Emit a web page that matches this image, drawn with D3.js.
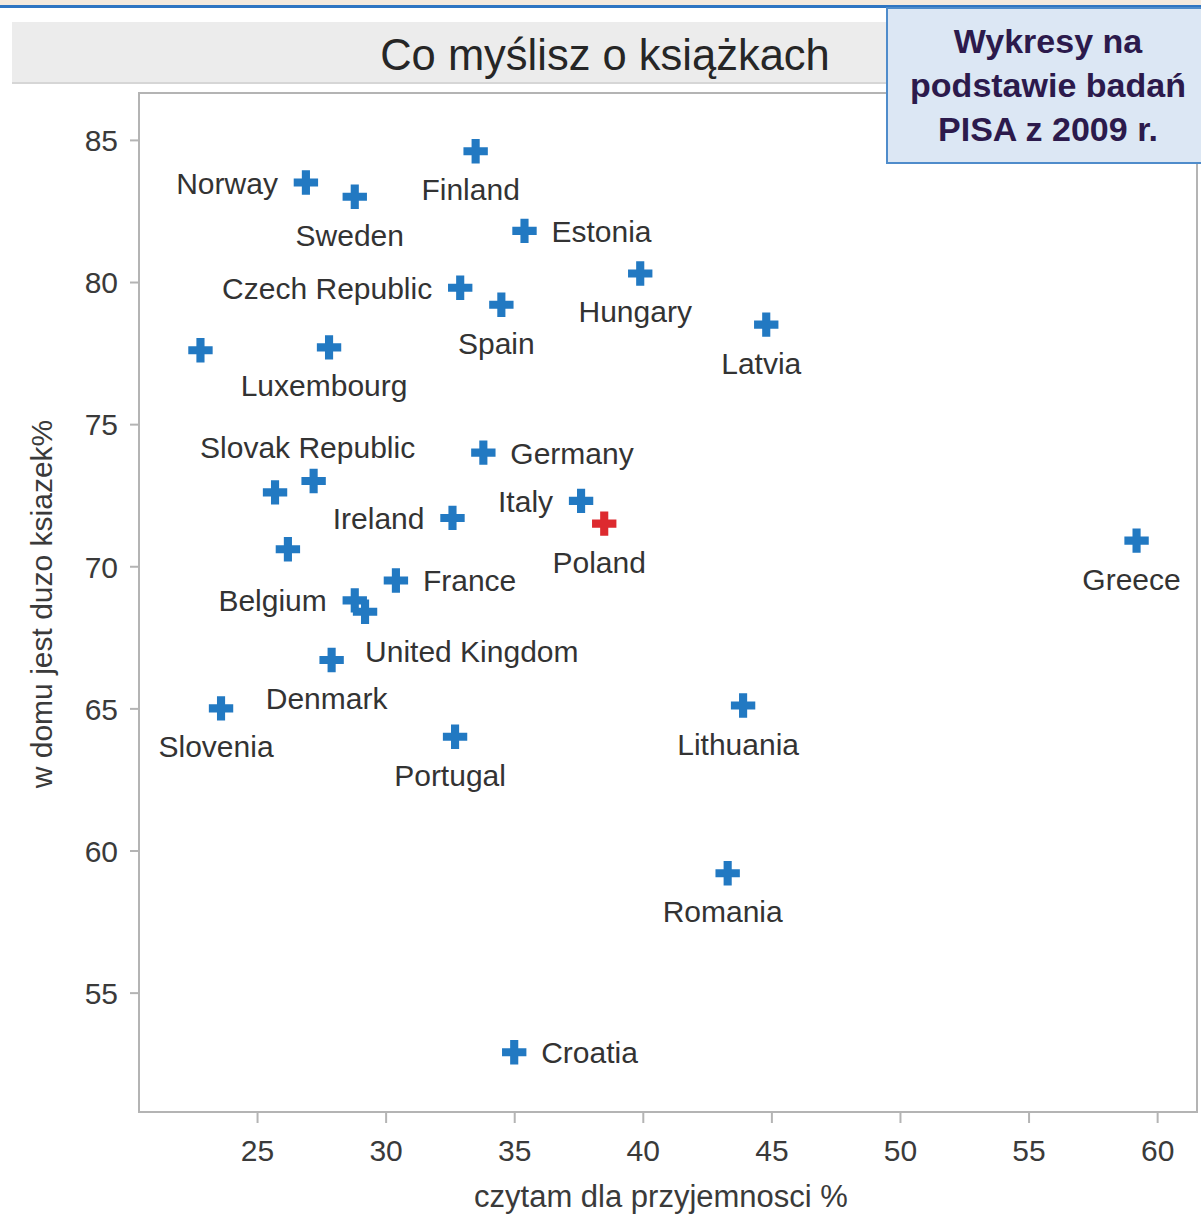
<!DOCTYPE html>
<html>
<head>
<meta charset="utf-8">
<script src="https://cdn.jsdelivr.net/npm/d3@7"></script>
<style>
  body { margin: 0; background: #fff; }
  text { font-family: "Liberation Sans", Arial, sans-serif; }
</style>
</head>
<body>
<div class="canvas"></div>
<script>
// ---- data ----
const countries = ['Norway', 'Sweden', 'Finland', 'Estonia', 'Czech Republic', 'Spain', 'Hungary', 'Latvia',
    '', 'Luxembourg', 'Germany', 'Slovak Republic', '', 'Ireland', 'Italy', 'Poland', '', 'France',
    'Belgium', 'United Kingdom', 'Denmark', 'Slovenia', 'Portugal', 'Lithuania', 'Romania', 'Croatia', 'Greece'];
const readForPleasure = [26.9, 28.8, 33.5, 35.4, 32.9, 34.5, 39.9, 44.8,
    22.8, 27.8, 33.8, 27.2, 25.7, 32.6, 37.6, 38.5, 26.2, 30.4,
    28.8, 29.2, 27.9, 23.6, 32.7, 43.9, 43.3, 35.0, 59.2];
const manyBooks = [83.5, 83.0, 84.6, 81.8, 79.8, 79.2, 80.3, 78.5,
    77.6, 77.7, 74.0, 73.0, 72.6, 71.7, 72.3, 71.5, 70.6, 69.5,
    68.8, 68.4, 66.7, 65.0, 64.0, 65.1, 59.2, 52.9, 70.9];
// where each name sits next to its marker
const labelSide = ['left', 'below', 'below', 'right', 'left', 'below', 'below', 'below',
    'none', 'below', 'right', 'above', 'none', 'left', 'left', 'below', 'none', 'right',
    'left', 'belowright', 'below', 'below', 'below', 'below', 'below', 'right', 'below'];
const highlight = 'Poland';

const xTicks = [25, 30, 35, 40, 45, 50, 55, 60];
const yTicks = [55, 60, 65, 70, 75, 80, 85];

const title = 'Co myślisz o książkach';
const xTitle = 'czytam dla przyjemnosci %';
const yTitle = 'w domu jest duzo ksiazek%';
const boxLines = ['Wykresy na', 'podstawie badań', 'PISA z 2009 r.'];

// ---- canvas ----
const W = 1201, H = 1224;
const plot = { left: 139, top: 93, right: 1197, bottom: 1112 };

const svg = d3.select('.canvas')
    .append('svg')
    .attr('width', W)
    .attr('height', H);

// strip of the page above, and the blue rule
svg.append('rect').attr('x', 0).attr('y', 0).attr('width', W).attr('height', 5).attr('fill', '#f3e9de');
svg.append('rect').attr('x', 0).attr('y', 5).attr('width', W).attr('height', 3).attr('fill', '#2f75c2');

// title band
svg.append('rect')
    .attr('x', 12).attr('y', 22).attr('width', 1189).attr('height', 62)
    .attr('fill', '#ececec');
svg.append('rect')
    .attr('x', 12).attr('y', 82).attr('width', 1189).attr('height', 2)
    .attr('fill', '#d6d6d6');
svg.append('text')
    .attr('x', 605).attr('y', 70)
    .attr('text-anchor', 'middle')
    .attr('font-size', 43.5)
    .attr('fill', '#262626')
    .text(title);

// scales
const x = d3.scaleLinear().domain([20.41, 61.55]).range([plot.left, plot.right]);
const y = d3.scaleLinear().domain([50.8, 86.65]).range([plot.bottom, plot.top]);

// plot frame
svg.append('rect')
    .attr('x', plot.left).attr('y', plot.top)
    .attr('width', plot.right - plot.left).attr('height', plot.bottom - plot.top)
    .attr('fill', '#fff')
    .attr('stroke', '#b4b4b4')
    .attr('stroke-width', 2);

// axes
const xAxisGroup = svg.append('g')
    .attr('transform', `translate(0, ${plot.bottom})`)
    .call(d3.axisBottom(x).tickValues(xTicks).tickSize(11).tickPadding(17));
const yAxisGroup = svg.append('g')
    .attr('transform', `translate(${plot.left}, 0)`)
    .call(d3.axisLeft(y).tickValues(yTicks).tickSize(9).tickPadding(12));

[xAxisGroup, yAxisGroup].forEach(g => {
    g.select('.domain').remove();
    g.selectAll('.tick line').attr('stroke', '#b4b4b4').attr('stroke-width', 2);
    g.selectAll('.tick text')
        .attr('font-family', '"Liberation Sans", Arial, sans-serif')
        .attr('font-size', 30)
        .attr('fill', '#3a3a3a');
});
yAxisGroup.selectAll('.tick text').attr('dy', '0.36em');

// axis titles
svg.append('text')
    .attr('x', 661).attr('y', 1207)
    .attr('text-anchor', 'middle')
    .attr('font-size', 31)
    .attr('fill', '#3a3a3a')
    .text(xTitle);
svg.append('text')
    .attr('transform', 'translate(52, 604) rotate(-90)')
    .attr('text-anchor', 'middle')
    .attr('font-size', 30)
    .attr('fill', '#3a3a3a')
    .text(yTitle);

// points
const data = countries.map((c, i) => ({
    name: c,
    px: readForPleasure[i],
    py: manyBooks[i],
    side: labelSide[i]
}));

const cross = d3.symbol().type(d3.symbolCross).size(330);

svg.append('g').selectAll('path')
    .data(data)
    .enter()
    .append('path')
        .attr('d', cross)
        .attr('transform', d => `translate(${x(d.px)}, ${y(d.py)})`)
        .attr('fill', d => d.name === highlight ? '#dd2a2f' : '#2279c2');

// labels
const place = {
    left:       { dx: -28, dy: 11, anchor: 'end' },
    right:      { dx: 27, dy: 11, anchor: 'start' },
    below:      { dx: -5, dy: 49, anchor: 'middle' },
    above:      { dx: -6, dy: -23, anchor: 'middle' },
    belowright: { dx: 0, dy: 50, anchor: 'start' }
};

svg.append('g').selectAll('text')
    .data(data.filter(d => d.side !== 'none'))
    .enter()
    .append('text')
        .attr('x', d => x(d.px) + place[d.side].dx)
        .attr('y', d => y(d.py) + place[d.side].dy)
        .attr('text-anchor', d => place[d.side].anchor)
        .attr('font-size', 30)
        .attr('fill', '#333')
        .text(d => d.name);

// note box, top right
svg.append('rect')
    .attr('x', 887).attr('y', 8).attr('width', 320).attr('height', 155)
    .attr('fill', '#dce7f4')
    .attr('stroke', '#4f8ccb')
    .attr('stroke-width', 2);
svg.append('g').selectAll('text')
    .data(boxLines)
    .enter()
    .append('text')
        .attr('x', 1048)
        .attr('y', (d, i) => 53 + i * 44)
        .attr('text-anchor', 'middle')
        .attr('font-family', 'Lato, "Open Sans", sans-serif')
        .attr('font-weight', 'bold')
        .attr('font-size', 34)
        .attr('fill', '#2c1a4c')
        .text(d => d);
</script>
</body>
</html>
